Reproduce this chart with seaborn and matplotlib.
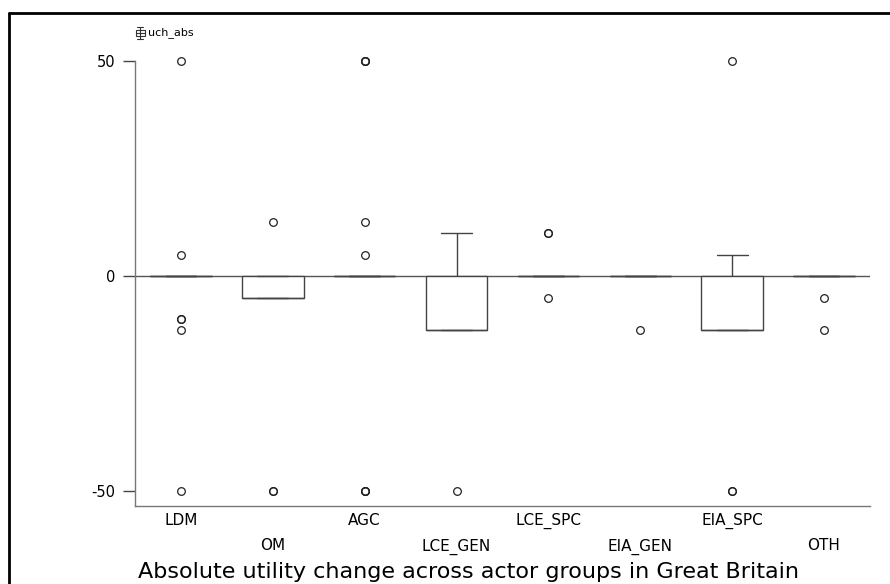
import pandas as pd
import seaborn as sns
import matplotlib.pyplot as plt
from matplotlib.lines import Line2D
from matplotlib.patches import Rectangle
from matplotlib.transforms import ScaledTranslation

# -------------------------------
# Data (utility change per actor)
# -------------------------------
groups = ["LDM", "OM", "AGC", "LCE_GEN", "LCE_SPC", "EIA_GEN", "EIA_SPC", "OTH"]

ldm = [50, 5, -10, -10, -12.5, -50, 0, 0, 0, 0, 0, 0, 0, 0, 0, 0, 0, 0, 0, 0]
om = [12.5, 0, 0, 0, -5, -5, -5, -5, -5, -5, -50, -50]
agc = [50, 50, 50, 12.5, 5, 0, 0, 0, 0, 0, 0, 0, 0, 0, 0, 0, 0, 0, 0, 0, 0,
       -50, -50, -50]
lce_gen = [10, 0, 0, 0, 0, -12.5, -12.5, -12.5, -12.5, -12.5, -12.5, -50]
lce_spc = [10, 10, 0, 0, 0, 0, 0, 0, 0, 0, 0, 0, 0, 0, 0, -5]
eia_gen = [0, 0, 0, 0, 0, 0, 0, 0, 0, 0, -12.5]
eia_spc = [50, 5, 0, 0, 0, 0, -12.5, -12.5, -12.5, -12.5, -12.5, -12.5, -50, -50]
oth = [0, 0, 0, 0, 0, 0, 0, 0, 0, 0, 0, 0, -5, -12.5]

values = [ldm, om, agc, lce_gen, lce_spc, eia_gen, eia_spc, oth]
y_ticks = [-50, 0, 50]

rows = []
for g, vals in zip(groups, values):
    for v in vals:
        rows.append({"group": g, "uch_abs": v})
df = pd.DataFrame(rows)

# -------------------------------
# Plot
# -------------------------------
sns.set_style("white")
plt.rcParams["font.family"] = ["DejaVu Sans"]
plt.rcParams["axes.unicode_minus"] = False

W, H = 890, 584
fig = plt.figure(figsize=(W / 100, H / 100), dpi=100)
ax = fig.add_axes([135 / W, 1 - 506 / H, (870 - 135) / W, (506 - 52.4) / H])

ax.axhline(0, color="#555555", lw=1, zorder=0)

sns.boxplot(
    data=df, x="group", y="uch_abs", order=groups, ax=ax,
    color="white", linecolor="#444444", linewidth=1, width=0.67,
    flierprops=dict(marker="o", markersize=5.5, markerfacecolor="none",
                    markeredgecolor="#222222", markeredgewidth=0.9),
)

ax.set_xlim(-0.5, 7.5)
ax.set_ylim(-53.4, 52)
ax.set_yticks(y_ticks)
ax.set_xlabel("")
ax.set_ylabel("")

for side in ["top", "right"]:
    ax.spines[side].set_visible(False)
for side in ["left", "bottom"]:
    ax.spines[side].set_color("#777777")
    ax.spines[side].set_linewidth(1)
ax.spines["left"].set_bounds(-53.4, 50)

ax.tick_params(axis="y", length=8.5, width=1, color="#444444", pad=5.5,
               labelsize=10.5, labelcolor="black", left=True)
ax.tick_params(axis="x", length=0, pad=5, labelsize=11, labelcolor="black")

# staggered category labels
for i, lab in enumerate(ax.get_xticklabels()):
    if i % 2 == 1:
        lab.set_transform(lab.get_transform() + ScaledTranslation(0, -0.255, fig.dpi_scale_trans))

# title under the chart
fig.text(468 / W, 1 - 572 / H, "Absolute utility change across actor groups in Great Britain",
         ha="center", va="center", fontsize=16, color="black")

# small legend icon + variable name
fig.add_artist(Line2D([140 / W, 140 / W], [1 - 27 / H, 1 - 39 / H], color="#333333", lw=0.8))
fig.add_artist(Line2D([137 / W, 143 / W], [1 - 27 / H, 1 - 27 / H], color="#333333", lw=0.8))
fig.add_artist(Line2D([137 / W, 143 / W], [1 - 39 / H, 1 - 39 / H], color="#333333", lw=0.8))
fig.add_artist(Rectangle((135.5 / W, 1 - 36 / H), 9 / W, 6 / H, facecolor="white",
                         edgecolor="#333333", lw=0.8))
fig.add_artist(Line2D([135.5 / W, 144.5 / W], [1 - 33 / H, 1 - 33 / H], color="#333333", lw=0.8))
fig.text(148 / W, 1 - 33 / H, "uch_abs", ha="left", va="center", fontsize=8, color="black")

# outer frame (top and left edges visible in the image)
fig.add_artist(Line2D([9 / W, 1], [1 - 13 / H, 1 - 13 / H], color="black", lw=2))
fig.add_artist(Line2D([9 / W, 9 / W], [0, 1 - 13 / H], color="black", lw=2))

fig.savefig("out.png", dpi=100)
